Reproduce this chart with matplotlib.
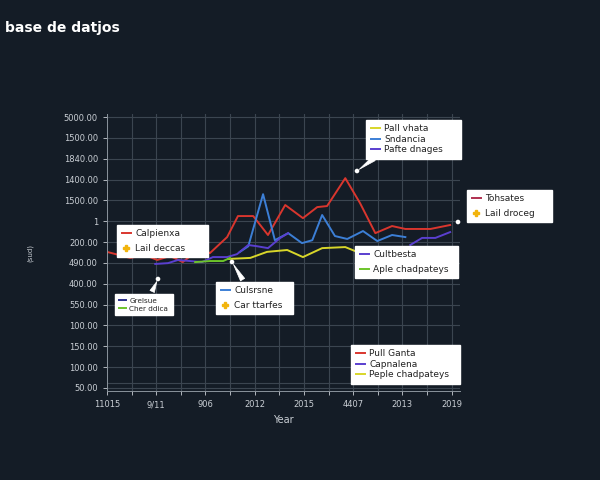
import numpy as np
import matplotlib
matplotlib.use("Agg")
import matplotlib.pyplot as plt
from matplotlib.lines import Line2D
from matplotlib.patches import Circle
from matplotlib.transforms import IdentityTransform

# tick labels as printed on the chart
x_labels = ["11015", "9/11", "906", "2012", "2015", "4407", "2013", "2019"]
y_labels = ["50.00", "100.00", "150.00", "100.00", "550.00", "400.00", "490.00",
            "200.00", "1", "1500.00", "1400.00", "1840.00", "1500.00", "5000.00"]

# series (x in tick units, y in tick units)
red_x = [0.00, 0.47, 0.77, 1.02, 1.28, 1.54, 1.89, 2.09, 2.44, 2.66, 2.97, 3.27, 3.62,
         3.98, 4.27, 4.47, 4.84, 5.14, 5.45, 5.79, 6.06, 6.57, 6.97]
red_y = [6.53, 6.24, 6.38, 6.14, 6.33, 6.04, 6.71, 6.47, 7.24, 8.25, 8.25, 7.34, 8.78,
         8.15, 8.68, 8.73, 10.07, 8.87, 7.43, 7.77, 7.63, 7.63, 7.82]
blue_x = [2.70, 2.87, 3.17, 3.41, 3.68, 3.96, 4.17, 4.37, 4.63, 4.88, 5.20, 5.49, 5.79, 6.06]
blue_y = [6.53, 6.80, 9.30, 7.09, 7.43, 6.95, 7.09, 8.30, 7.29, 7.15, 7.53, 7.05, 7.34, 7.24]
purple_x = [0.98, 1.24, 1.44, 1.69, 1.93, 2.15, 2.44, 2.64, 2.87, 3.05, 3.27, 3.52, 3.68,
            np.nan, 6.16, 6.40, 6.67, 6.97]
purple_y = [5.95, 5.99, 6.14, 6.09, 6.04, 6.28, 6.28, 6.42, 6.86, 6.80, 6.71, 7.20, 7.43,
            np.nan, 6.86, 7.20, 7.20, 7.48]
yellow_x = [2.46, 2.91, 3.25, 3.66, 3.98, 4.37, 4.84, 5.08]
yellow_y = [6.19, 6.24, 6.53, 6.62, 6.28, 6.71, 6.76, 6.53]
green_x = [1.79, 2.09, 2.36, 2.50]
green_y = [6.04, 6.09, 6.09, 6.24]

bg = "#141c26"
RED, BLUE, PURPLE = "#d9362e", "#3c7fd6", "#5a3fcf"
YELLOW, GREEN, NAVY, ORANGE = "#d8d62a", "#6cc42a", "#2b2f8c", "#f2b40c"

fig = plt.figure(figsize=(6, 4.8), dpi=100, facecolor=bg)
W, H = 600, 480
ax = fig.add_axes([107 / W, (H - 391) / H, 353 / W, 277 / H], facecolor=bg)

ax.plot(red_x, red_y, color=RED, lw=1.4)
ax.plot(blue_x, blue_y, color=BLUE, lw=1.4)
ax.plot(purple_x, purple_y, color=PURPLE, lw=1.4)
ax.plot(yellow_x, yellow_y, color=YELLOW, lw=1.4)
ax.plot(green_x, green_y, color=GREEN, lw=1.4)

ax.set_xlim(0, 7.17)
ax.set_ylim(-0.15, 13.15)
ax.set_xticks(range(len(x_labels)))
ax.set_xticklabels(x_labels)
ax.set_xticks(np.arange(0.5, 7, 1), minor=True)
ax.set_yticks(range(len(y_labels)))
ax.set_yticklabels(y_labels)
ax.grid(True, which="both", color="#3b4550", lw=0.8)
ax.axhline(0.25, color="#3b4550", lw=0.8)
ax.tick_params(colors="#c9ced4", labelsize=6, length=3, width=0.6)
ax.tick_params(which="minor", length=3, width=0.6, color="#c9ced4")
for s in ["top", "right"]:
    ax.spines[s].set_visible(False)
for s in ["left", "bottom"]:
    ax.spines[s].set_color("#8a939c")
    ax.spines[s].set_linewidth(0.7)
ax.set_xlabel("Year", color="#c9ced4", fontsize=7, labelpad=4)
ax.set_ylabel("(sud)", color="#c9ced4", fontsize=5, labelpad=22)

fig.text(5 / W, 1 - 28 / H, "base de datjos", color="white", fontsize=10,
         fontweight="bold", va="center", ha="left")


def box(items, x0, y0, w, spacing=0.15, size=6.5):
    hs = []
    for kind, color in items[0]:
        if kind == "m":
            hs.append(Line2D([], [], ls="none", marker="P", color=color, markersize=4))
        else:
            hs.append(Line2D([], [], color=color, lw=1.4))
    leg = fig.legend(hs, items[1], loc="upper left", mode="expand",
                     bbox_to_anchor=(x0 / W, 1 - y0 / H, w / W, 0.0001),
                     frameon=True, fancybox=False, facecolor="white", edgecolor="white",
                     framealpha=1, fontsize=size, labelcolor="#222222", handlelength=1.0,
                     handletextpad=0.5, labelspacing=spacing, borderpad=0.5,
                     borderaxespad=0)
    return leg


box(([("l", RED), ("m", ORANGE)], ["Calpienxa", "Lail deccas"]), 117, 225, 91, 0.6)
box(([("l", NAVY), ("l", GREEN)], ["Grelsue", "Cher ddica"]), 115, 294, 58, 0.3, 5.2)
box(([("l", BLUE), ("m", ORANGE)], ["Culsrsne", "Car ttarfes"]), 216, 282, 77, 0.6)
box(([("l", YELLOW), ("l", BLUE), ("l", PURPLE)], ["Pall vhata", "Sndancia", "Pafte dnages"]),
    366, 120, 95, 0.15)
box(([("l", PURPLE), ("l", GREEN)], ["Cultbesta", "Aple chadpateys"]), 355, 246, 103, 0.6)
box(([("l", "#b03050"), ("m", ORANGE)], ["Tohsates", "Lail droceg"]), 467, 190, 85, 0.6)
box(([("l", RED), ("l", PURPLE), ("l", YELLOW)], ["Pull Ganta", "Capnalena", "Peple chadpateys"]),
    351, 345, 109, 0.15)

# callout pointers
for dot, base in [((158, 279), (151, 294)), ((232, 262), (244, 282)), ((357, 171), (376, 157))]:
    ax.annotate("", xy=(dot[0], H - dot[1]), xycoords="figure pixels",
                xytext=(base[0], H - base[1]), textcoords="figure pixels",
                arrowprops=dict(arrowstyle="wedge,tail_width=0.35,shrink_factor=0.5",
                                fc="white", ec="white", lw=0.5))
for dot in [(158, 279), (232, 262), (357, 171), (458, 222)]:
    fig.add_artist(Circle((dot[0], H - dot[1]), 1.6, color="white",
                          transform=IdentityTransform()))

fig.savefig("out.png", dpi=100, facecolor=bg)
